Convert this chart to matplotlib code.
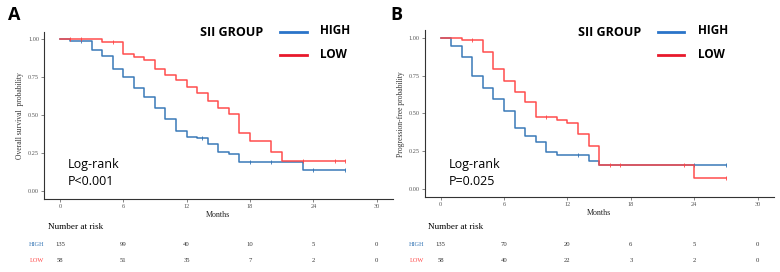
import matplotlib
matplotlib.use("Agg")
import matplotlib.pyplot as plt

# ---------------- data ----------------
# Panel A: overall survival
a_high_t = [0, 1, 3, 4, 5, 6, 7, 8, 9, 10, 11, 12, 13, 14, 15, 16, 17, 23, 27]
a_high_s = [1.0, 0.99, 0.93, 0.892, 0.807, 0.752, 0.681, 0.622, 0.545, 0.473, 0.393,
            0.356, 0.347, 0.312, 0.255, 0.244, 0.193, 0.138, 0.138]
a_low_t = [0, 4, 6, 7, 8, 9, 10, 11, 12, 13, 14, 15, 16, 17, 18, 20, 21, 27]
a_low_s = [1.0, 0.982, 0.905, 0.886, 0.864, 0.807, 0.767, 0.732, 0.688, 0.644, 0.596,
           0.545, 0.51, 0.382, 0.33, 0.259, 0.198, 0.198]
a_high_cens = [2, 13.5, 18, 20, 24, 27]
a_low_cens = [1, 2, 5, 23, 26, 27]

# Panel B: progression-free survival
b_high_t = [0, 1, 2, 3, 4, 5, 6, 7, 8, 9, 10, 11, 14, 15, 27]
b_high_s = [1.0, 0.947, 0.873, 0.747, 0.670, 0.593, 0.516, 0.402, 0.352, 0.31, 0.244,
            0.224, 0.185, 0.158, 0.158]
b_low_t = [0, 2, 4, 5, 6, 7, 8, 9, 11, 12, 13, 14, 15, 24, 27]
b_low_s = [1.0, 0.985, 0.908, 0.796, 0.716, 0.64, 0.578, 0.479, 0.457, 0.437, 0.363,
           0.286, 0.158, 0.077, 0.077]
b_high_cens = [13, 24, 27]
b_low_cens = [3, 10, 16, 17, 23, 27]

x_ticks = [0, 6, 12, 18, 24, 30]
y_ticks = [0.0, 0.25, 0.5, 0.75, 1.0]
y_tick_labels = ["0.00", "0.25", "0.50", "0.75", "1.00"]

a_risk_high = [135, 99, 40, 10, 5, 0]
a_risk_low = [58, 51, 35, 7, 2, 0]
b_risk_high = [135, 70, 20, 6, 5, 0]
b_risk_low = [58, 40, 22, 3, 2, 0]

groups = ["HIGH", "LOW"]
panel_letters = ["A", "B"]
y_labels = ["Overall survival  probability", "Progression-free probability"]
pvals = ["Log-rank\nP<0.001", "Log-rank\nP=0.025"]

# ---------------- style ----------------
BLUE = "#2f72b4"
RED = "#ff4444"
LEG_BLUE = "#2a74c9"
LEG_RED = "#e8192c"
SERIF = ["Liberation Serif", "DejaVu Serif"]
SANS = ["Open Sans", "DejaVu Sans"]

W, H = 780, 272
fig = plt.figure(figsize=(W / 100, H / 100), dpi=100)


def fx(px):
    return px / W


def fy(py):
    return 1 - py / H


panels = [
    dict(left=44, right=392.6, top=31.7, bottom=199,
         high=(a_high_t, a_high_s, a_high_cens), low=(a_low_t, a_low_s, a_low_cens),
         risk=(a_risk_high, a_risk_low), letter_x=8, ylab_x=24,
         sii_x=200, line_x=(280, 307), grp_x=320, lr_x=68,
         nar_x=48, grp_lab_x=37),
    dict(left=424.8, right=773.5, top=30.1, bottom=197.3,
         high=(b_high_t, b_high_s, b_high_cens), low=(b_low_t, b_low_s, b_low_cens),
         risk=(b_risk_high, b_risk_low), letter_x=390, ylab_x=405,
         sii_x=578, line_x=(658, 684), grp_x=698, lr_x=449,
         nar_x=428, grp_lab_x=417),
]


def surv_at(t_list, s_list, t):
    val = s_list[0]
    for ti, si in zip(t_list, s_list):
        if ti <= t:
            val = si
    return val


for i, p in enumerate(panels):
    ax = fig.add_axes([fx(p["left"]), fy(p["bottom"]), fx(p["right"] - p["left"]),
                       (p["bottom"] - p["top"]) / H])
    for (t, s, cens), col in ((p["high"], BLUE), (p["low"], RED)):
        ax.step(t, s, where="post", color=col, lw=1.1, alpha=0.95)
        cy = [surv_at(t, s, c) for c in cens]
        ax.plot(cens, cy, ls="none", marker="|", ms=3, mew=0.6, color=col)
    ax.set_xlim(-1.5, 31.5)
    ax.set_ylim(-0.053, 1.05)
    ax.set_xticks(x_ticks)
    ax.set_yticks(y_ticks)
    ax.set_yticklabels(y_tick_labels)
    for sp in ("top", "right"):
        ax.spines[sp].set_visible(False)
    for sp in ("left", "bottom"):
        ax.spines[sp].set_color("#333333")
        ax.spines[sp].set_linewidth(0.8)
    ax.tick_params(length=2, width=0.5, color="#555555", labelsize=4.5,
                   labelcolor="#555555", pad=1.5)
    for lab in ax.get_xticklabels() + ax.get_yticklabels():
        lab.set_family(SERIF)
    ax.set_ylabel(y_labels[i], family=SERIF, fontsize=5.5, color="#333333", labelpad=2)
    ax.set_xlabel("Months", family=SERIF, fontsize=5.8, color="#222222", labelpad=1.5)
    ax.yaxis.set_label_coords(-(p["left"] - p["ylab_x"]) / (p["right"] - p["left"]), 0.5)

    # panel letter
    fig.text(fx(p["letter_x"]), fy(15), panel_letters[i], fontsize=13, fontweight="bold",
             family=SANS, va="center", ha="left")
    # legend
    fig.text(fx(p["sii_x"]), fy(32), "SII GROUP", fontsize=9, fontweight="bold",
             family=SANS, va="center", ha="left")
    for yy, g, lc in ((32, groups[0], LEG_BLUE), (55, groups[1], LEG_RED)):
        fig.add_artist(plt.Line2D([fx(p["line_x"][0]), fx(p["line_x"][1])], [fy(yy), fy(yy)],
                                  color=lc, lw=2, transform=fig.transFigure))
        fig.text(fx(p["grp_x"]), fy(yy - 1), g, fontsize=8.5, fontweight="bold",
                 family=SANS, va="center", ha="left")
    # log-rank
    fig.text(fx(p["lr_x"]), fy(173), pvals[i], fontsize=9, family=SANS,
             va="center", ha="left", linespacing=1.35)

    # number at risk
    fig.text(fx(p["nar_x"]), fy(227), "Number at risk", fontsize=6.6, family=SERIF,
             va="center", ha="left")
    x0 = p["left"] + 1.5 * (p["right"] - p["left"]) / 33.0
    scale = (p["right"] - p["left"]) / 33.0
    for yy, g, vals, col in ((244, groups[0], p["risk"][0], BLUE),
                             (260, groups[1], p["risk"][1], RED)):
        fig.text(fx(p["grp_lab_x"]), fy(yy), g, fontsize=4.5, family=SERIF, color=col,
                 va="center", ha="center")
        for xt, v in zip(x_ticks, vals):
            fig.text(fx(x0 + xt * scale), fy(yy), str(v), fontsize=4.8, family=SERIF,
                     color="#333333", va="center", ha="center")

fig.savefig("out.png", dpi=100)
